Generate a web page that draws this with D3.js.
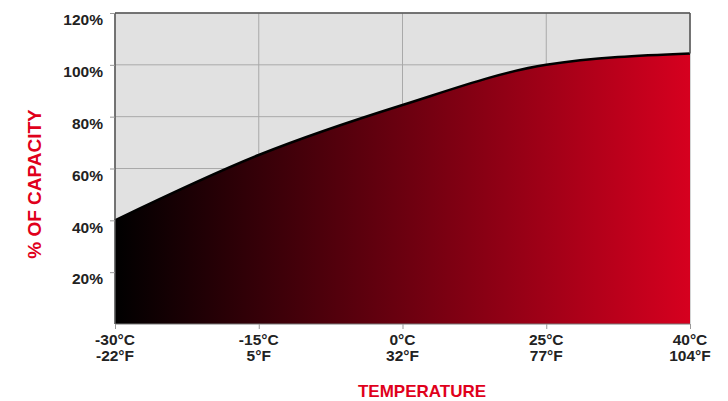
<!DOCTYPE html>
<html>
<head>
<meta charset="utf-8">
<script src="https://cdn.jsdelivr.net/npm/d3@7"></script>
<style>
  body { margin: 0; background: #fff; }
  text { font-family: "Liberation Sans", Arial, sans-serif; font-weight: bold; }
</style>
</head>
<body>
<svg id="chart" width="728" height="401"></svg>
<script>
const tempsC = ["-30°C", "-15°C", "0°C", "25°C", "40°C"];
const tempsF = ["-22°F", "5°F", "32°F", "77°F", "104°F"];
const capacity = [40, 65.2, 84.5, 100, 104.4];
const yTicks = [20, 40, 60, 80, 100, 120];

const margin = {top: 13, right: 38, bottom: 77, left: 115};
const width = 728 - margin.left - margin.right,
	height = 401 - margin.top - margin.bottom;

const svg = d3.select("#chart");
const g = svg.append("g")
	.attr("transform", "translate(" + margin.left + "," + margin.top + ")");

const x = d3.scalePoint()
	.domain(tempsC)
	.range([0, width]);

const y = d3.scaleLinear()
	.domain([0, 120])
	.range([height, 0]);

const defs = svg.append("defs");
const grad = defs.append("linearGradient")
	.attr("id", "fillGrad")
	.attr("x1", "0%").attr("x2", "100%")
	.attr("y1", "0%").attr("y2", "0%");
grad.append("stop").attr("offset", "0%").attr("stop-color", "#000000");
grad.append("stop").attr("offset", "100%").attr("stop-color", "#d6001f");

// background
g.append("rect")
	.attr("width", width)
	.attr("height", height)
	.style("fill", "#e1e1e1");

// grid
g.selectAll(".hgrid")
	.data(yTicks)
	.enter()
	.append("line")
		.attr("class", "hgrid")
		.attr("x1", 0).attr("x2", width)
		.attr("y1", d => y(d)).attr("y2", d => y(d))
		.style("stroke", "#a9a9a9")
		.style("stroke-width", 1);

g.selectAll(".vgrid")
	.data(tempsC)
	.enter()
	.append("line")
		.attr("class", "vgrid")
		.attr("x1", d => x(d)).attr("x2", d => x(d))
		.attr("y1", 0).attr("y2", height)
		.style("stroke", "#a9a9a9")
		.style("stroke-width", 1);

const pts = tempsC.map((t, i) => ({t: t, v: capacity[i]}));

const area = d3.area()
	.curve(d3.curveMonotoneX)
	.x(d => x(d.t))
	.y0(height)
	.y1(d => y(d.v));

const line = d3.line()
	.curve(d3.curveMonotoneX)
	.x(d => x(d.t))
	.y(d => y(d.v));

g.append("path")
	.datum(pts)
	.attr("d", area)
	.style("fill", "url(#fillGrad)");

g.append("path")
	.datum(pts)
	.attr("d", line)
	.style("fill", "none")
	.style("stroke", "#000")
	.style("stroke-width", 2.5);

// frame
g.append("line")
	.attr("x1", 0).attr("x2", width).attr("y1", 0).attr("y2", 0)
	.style("stroke", "#555").style("stroke-width", 1.5);
g.append("line")
	.attr("x1", 0).attr("x2", 0).attr("y1", 0).attr("y2", height)
	.style("stroke", "#555").style("stroke-width", 1.5);
g.append("line")
	.attr("x1", 0).attr("x2", width).attr("y1", height).attr("y2", height)
	.style("stroke", "#777").style("stroke-width", 1);
g.append("line")
	.attr("x1", width).attr("x2", width).attr("y1", 0).attr("y2", y(capacity[capacity.length - 1]))
	.style("stroke", "#555").style("stroke-width", 1.5);

// y axis
const yAxis = g.append("g")
	.call(d3.axisLeft(y).tickValues(yTicks).tickSize(5).tickFormat(d => d + "%"));
yAxis.select(".domain").remove();
yAxis.selectAll(".tick line").style("stroke", "#999");
yAxis.selectAll(".tick text")
	.attr("x", -12)
	.attr("dy", "0.76em")
	.style("font-size", "15.5px")
	.style("fill", "#222")
	.style("font-family", "'Liberation Sans', Arial, sans-serif");

// x axis
const xAxis = g.append("g")
	.attr("transform", "translate(0," + height + ")")
	.call(d3.axisBottom(x).tickSize(5).tickFormat(""));
xAxis.select(".domain").remove();
xAxis.selectAll(".tick line").style("stroke", "#999");

const xl = g.selectAll(".xlab")
	.data(tempsC)
	.enter()
	.append("text")
		.attr("class", "xlab")
		.attr("text-anchor", "middle")
		.attr("x", d => x(d))
		.attr("y", height + 21)
		.style("font-size", "15.5px")
		.style("fill", "#222");
xl.append("tspan")
	.attr("x", d => x(d))
	.text(d => d);
xl.append("tspan")
	.attr("x", d => x(d))
	.attr("dy", 16)
	.text((d, i) => tempsF[i]);

// titles
svg.append("text")
	.attr("x", 422)
	.attr("y", 397)
	.attr("text-anchor", "middle")
	.style("font-size", "17px")
	.style("fill", "#e0001b")
	.text("TEMPERATURE");

svg.append("text")
	.attr("transform", "translate(41,184) rotate(-90)")
	.attr("text-anchor", "middle")
	.style("font-size", "19px")
	.style("fill", "#e0001b")
	.text("% OF CAPACITY");
</script>
</body>
</html>
